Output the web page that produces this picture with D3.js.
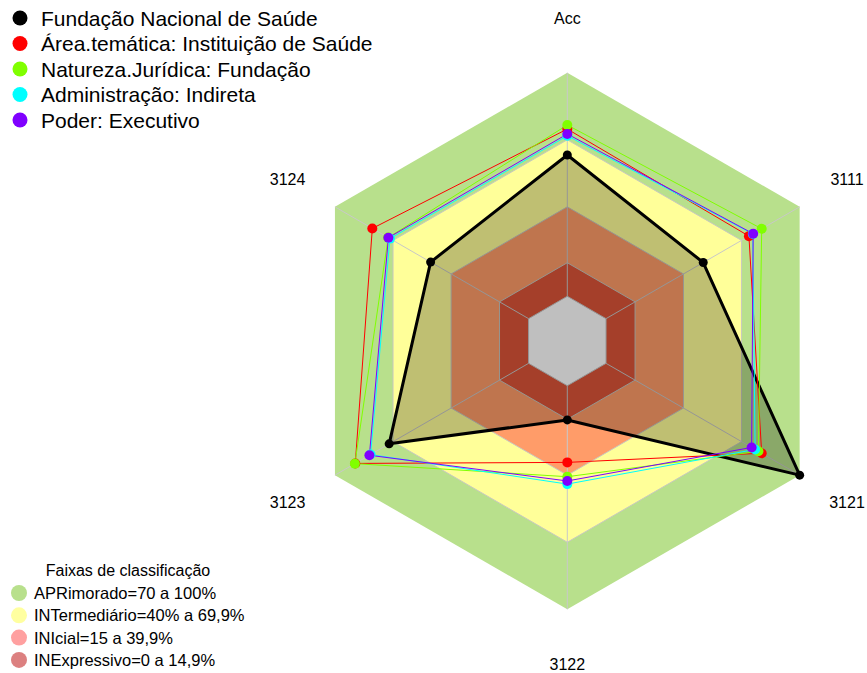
<!DOCTYPE html>
<html>
<head>
<meta charset="utf-8">
<script src="https://cdn.jsdelivr.net/npm/d3@7"></script>
<style>
	body { margin: 0; background: #fff; }
	svg { display: block; font-family: "Liberation Sans", Arial, sans-serif; }
</style>
</head>
<body>
<svg id="svg" width="867" height="673"></svg>
<script>
const axes = ['Acc', '3111', '3121', '3122', '3123', '3124']

const seriesNames = [
	'Fundação Nacional de Saúde',
	'Área.temática: Instituição de Saúde',
	'Natureza.Jurídica: Fundação',
	'Administração: Indireta',
	'Poder: Executivo',
]
const seriesColors = ['#000000', '#ff0000', '#80ff00', '#00ffff', '#8000ff']

const fundacao = [63.2, 50.2, 100, 15.3, 72.0, 50.6]
const areaTematica = [74.8, 73.8, 80.4, 34.3, 89.5, 80.7]
const naturezaJuridica = [76.6, 80.4, 78.7, 40.7, 89.7, 72.5]
const administracao = [71.8, 75.8, 77.0, 44.0, 81.6, 71.6]
const poder = [72.6, 76.0, 75.2, 42.6, 82.2, 72.4]
const seriesValues = [fundacao, areaTematica, naturezaJuridica, administracao, poder]

// classification bands (upper limit of each band)
const bandNames = ['APRimorado=70 a 100%', 'INTermediário=40% a 69,9%', 'INIcial=15 a 39,9%', 'INExpressivo=0 a 14,9%']
const bandLimits = [100, 70, 40, 15]
const bandColors = ['#b8e08c', '#ffff99', '#ff9c69', '#dd5538']
const bandLegendColors = ['#b8e08c', '#ffffa0', '#ffa0a0', '#dc8080']

const $svg = d3.select('#svg')
const cx = 567.3
const cy = 341
const R = 268.3

const r = d3.scaleLinear().domain([0, 100]).range([R / 6, R])
const angle = d3.scaleLinear().domain([0, axes.length]).range([0, 2 * Math.PI])

const radial = d3.lineRadial()
	.angle((d, i) => angle(i))
	.radius(d => r(d))
	.curve(d3.curveLinearClosed)

const point = (v, i) => {
	const a = angle(i)
	return [r(v) * Math.sin(a), -r(v) * Math.cos(a)]
}

const $chart = $svg.append('g').attr('transform', `translate(${cx},${cy})`)

// bands
bandLimits.forEach((lim, k) => {
	$chart.append('path')
		.attr('d', radial(axes.map(() => lim)))
		.attr('fill', bandColors[k])
		.attr('stroke', k === 0 ? 'none' : '#c8c8c0')
		.attr('stroke-width', 1)
})
$chart.append('path')
	.attr('d', radial(axes.map(() => 0)))
	.attr('fill', '#ffffff')
	.attr('stroke', '#c8c8c8')
	.attr('stroke-width', 1)

// axis lines
axes.forEach((a, i) => {
	const p0 = point(0, i)
	const p1 = point(100, i)
	$chart.append('line')
		.attr('x1', p0[0]).attr('y1', p0[1])
		.attr('x2', p1[0]).attr('y2', p1[1])
		.attr('stroke', '#c8c8c8')
		.attr('stroke-width', 1)
})

// series
seriesValues.forEach((vals, s) => {
	const isMain = s === 0
	$chart.append('path')
		.attr('d', radial(vals))
		.attr('fill', isMain ? 'rgba(0,0,0,0.25)' : 'none')
		.attr('stroke', seriesColors[s])
		.attr('stroke-width', isMain ? 3 : 1)
		.attr('stroke-linejoin', 'round')
})
seriesValues.forEach((vals, s) => {
	$chart.selectAll(null)
		.data(vals)
		.join('circle')
		.attr('cx', (d, i) => point(d, i)[0])
		.attr('cy', (d, i) => point(d, i)[1])
		.attr('r', s === 0 ? 4.5 : 5)
		.attr('fill', seriesColors[s])
})

// axis labels
axes.forEach((a, i) => {
	const ang = angle(i)
	const lr = 323
	$chart.append('text')
		.attr('x', lr * Math.sin(ang))
		.attr('y', -lr * Math.cos(ang))
		.attr('text-anchor', 'middle')
		.attr('dominant-baseline', 'central')
		.attr('font-size', 16)
		.attr('fill', '#000')
		.text(a)
})

// series legend
const $leg = $svg.append('g')
seriesNames.forEach((name, s) => {
	const y = 18 + s * 25.5
	$leg.append('circle').attr('cx', 20).attr('cy', y).attr('r', 7.5).attr('fill', seriesColors[s])
	$leg.append('text')
		.attr('x', 41).attr('y', y)
		.attr('dominant-baseline', 'central')
		.attr('font-size', 21)
		.text(name)
})

// band legend
const $bleg = $svg.append('g')
$bleg.append('text')
	.attr('x', 128).attr('y', 570)
	.attr('text-anchor', 'middle')
	.attr('dominant-baseline', 'central')
	.attr('font-size', 16)
	.text('Faixas de classificação')
bandNames.forEach((name, k) => {
	const y = 593 + k * 22.3
	$bleg.append('circle').attr('cx', 19).attr('cy', y).attr('r', 8).attr('fill', bandLegendColors[k])
	$bleg.append('text')
		.attr('x', 34).attr('y', y)
		.attr('dominant-baseline', 'central')
		.attr('font-size', 16.5)
		.text(name)
})
</script>
</body>
</html>
